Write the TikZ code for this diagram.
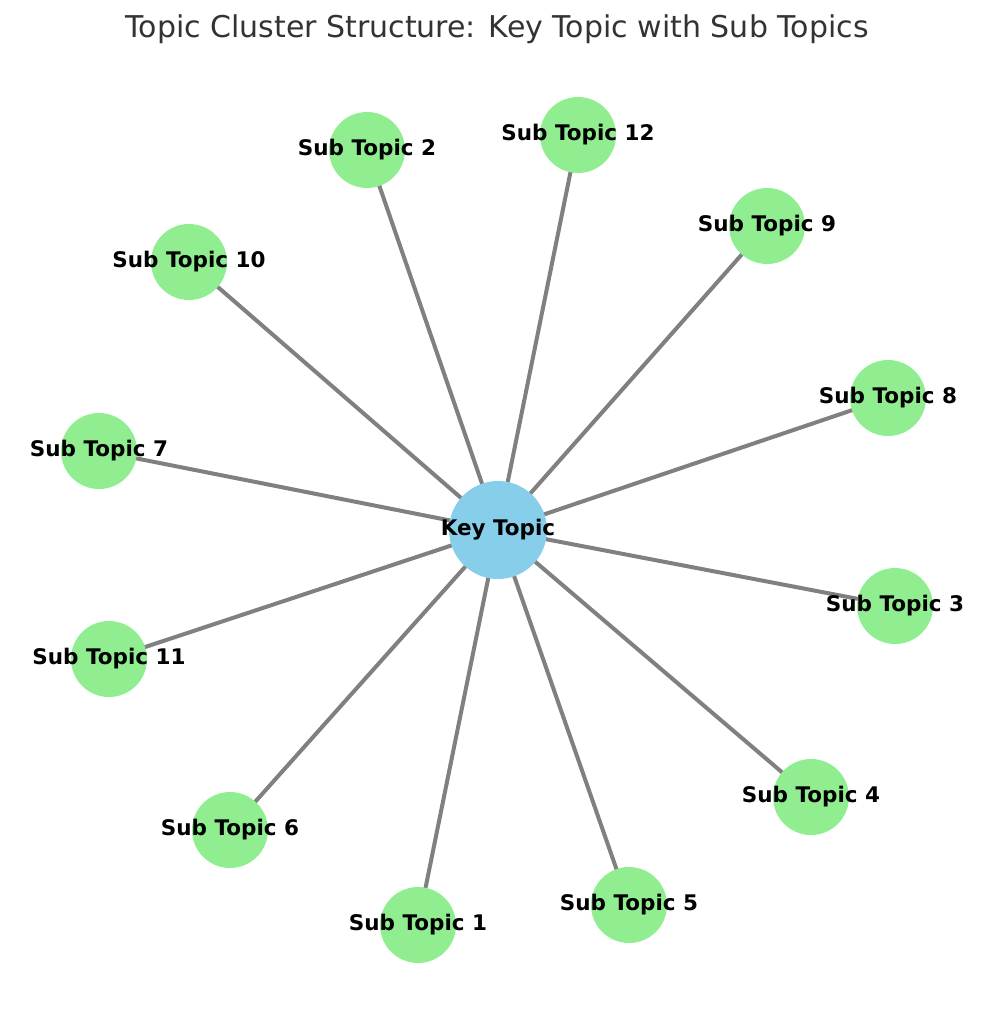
\documentclass[tikz,border=0pt]{standalone}
\usepackage{fontspec}
\setmainfont{DejaVu Sans}
\usepackage{tikz}
\definecolor{subgreen}{HTML}{90EE90}
\definecolor{keyblue}{HTML}{87CEEB}
\definecolor{titlegray}{HTML}{333333}
\tikzset{
  sub/.style={circle, fill=subgreen, minimum size=76pt, inner sep=0pt},
  key/.style={circle, fill=keyblue, minimum size=98pt, inner sep=0pt},
  lbl/.style={font=\bfseries\fontsize{21.5}{24}\selectfont},
  edge/.style={line width=4pt, gray}
}
\begin{document}
\begin{tikzpicture}[x=1pt, y=-1pt]
    \useasboundingbox (0,0) rectangle (994,1024);
    \node[font=\fontsize{30}{34}\selectfont, text=titlegray] (title) at (497,29) {Topic Cluster Structure: Key Topic with Sub Topics};

    \coordinate (k) at (498,530);
    \foreach \n/\x/\y in {1/418/925, 2/367/150, 3/895/606, 4/811/797, 5/629/905, 6/230/830,
        7/99/451, 8/888/398, 9/767/226, 10/189/262, 11/109/659, 12/578/135} {
      \coordinate (c\n) at (\x,\y);
      \draw[edge] (k) -- (c\n);
    }

    \node[key] (key) at (k) {};
    \node[lbl] at (key) {Key Topic};
    \foreach \n in {1,...,12} {
      \node[sub] (s\n) at (c\n) {};
      \node[lbl] at (s\n) {Sub Topic \n};
    }
\end{tikzpicture}
\end{document}
